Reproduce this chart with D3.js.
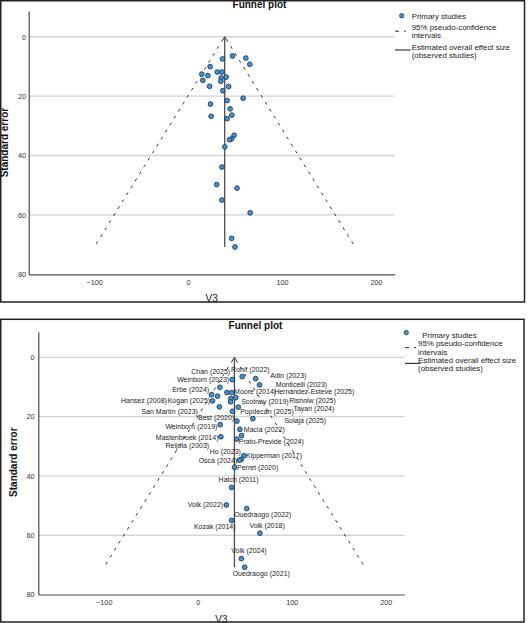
<!DOCTYPE html>
<html>
<head>
<meta charset="utf-8">
<script src="https://cdn.jsdelivr.net/npm/d3@7/dist/d3.min.js"></script>
<style>
  body { margin: 0; background: #ffffff; }
  svg { display: block; font-family: "Liberation Sans", Arial, sans-serif; }
</style>
</head>
<body>
<div id="funnel"></div>
<script>
////////////////////////////////////////////////////////////////////////////////
////////////////////////////////////////////////////////////////////////// Data
////////////////////////////////////////////////////////////////////////////////

// study labels ("" = no label shown)
const studyNames = [
  "Rohlf (2022)", "Adin (2023)", "Monticelli (2023)", "Chan (2025)",
  "Weinborn (2023)", "Erbe (2024)", "Kogan (2025)", "Hansez (2008)", "",
  "Moore (2014)", "Rishniw (2025)", "Hernández-Esteve (2025)", "Scotney (2019)",
  "San Martín (2023)", "Tayari (2024)", "Popdecan (2025)", "Solaja (2025)",
  "Best (2020)", "Weinborn (2019)", "Macia (2022)", "Reijola (2003)",
  "Mastenbroek (2014)", "Prato-Previde (2024)", "Kipperman (2017)", "Ho (2023)",
  "Osca (2024)", "Perret (2020)", "Hatch (2011)", "Volk (2022)",
  "Ouedraogo (2022)", "Kozak (2014)", "Volk (2018)", "Volk (2024)",
  "Ouedraogo (2021)"
];

// effect size (V3)
const effectSizes = [
  47.3, 61.5, 65.7, 36.7, 23.5, 14.7, 15.7, 21.1, 31.0, 36.0, 35.2, 40.5,
  34.9, 22.9, 43.1, 37.0, 58.6, 41.6, 23.9, 44.8, 46.6, 24.6, 41.6, 49.0,
  46.3, 44.1, 39.1, 36.0, 30.5, 52.1, 36.0, 66.1, 46.4, 49.9
];

// standard error
const standardErrors = [
  6.5, 7.2, 9.3, 7.5, 10.1, 12.6, 14.7, 13.1, 11.9, 11.9, 13.9, 13.6,
  15.0, 16.7, 16.8, 18.2, 20.7, 21.5, 22.7, 24.3, 26.4, 26.8, 27.6, 33.2,
  34.4, 34.7, 37.1, 43.9, 49.8, 51.0, 55.0, 59.3, 67.9, 70.8
];

const pooledEffect = 39;
const ciZ = 1.96;

const xTicks = [-100, 0, 100, 200];
const yTicks = [0, 20, 40, 60, 80];
const xDomain = [-169.6, 219.8];
const yDomain = [-8.65, 80];

const legendLabels = [
  ["Primary studies"],
  ["95% pseudo-confidence", "intervals"],
  ["Estimated overall effect size", "(observed studies)"]
];

////////////////////////////////////////////////////////////////////////////////
//////////////////////////////////////////////////////////////////////// Layout
////////////////////////////////////////////////////////////////////////////////

// label placement relative to its point: [dx, dy, anchor]
const labelLayout = [
  [-11.1, -7, "start"], [14.6, -3.3, "start"], [16.3, -0.3, "start"],
  [-2.1, -8.3, "end"], [9.3, -7.7, "end"], [-2.4, -5.6, "end"],
  [-2.4, 0.1, "end"], [-50.7, 4.7, "end"], [0, 0, "start"],
  [2.5, -1.3, "start"], [58.3, 1.7, "start"], [38.3, -6.3, "start"],
  [10.6, 0.1, "start"], [-21.4, 5.1, "end"], [55.2, 1.3, "start"],
  [7.6, 0.7, "start"], [31.6, 2.1, "start"], [-2.7, -3.3, "end"],
  [-2.8, 2.4, "end"], [4, -0.3, "start"], [-32.4, 10.4, "end"],
  [-2.4, 0.4, "end"], [2, 2.7, "start"], [2.2, -0.6, "start"],
  [-0.4, -7.6, "end"], [-2, 0.7, "end"], [2.5, 0.1, "start"],
  [7, -7.8, "middle"], [-3.3, -0.6, "end"], [16, 6.2, "middle"],
  [4, 6.5, "end"], [7.2, -7.2, "middle"], [7.6, -8.2, "middle"],
  [16.6, 6.6, "middle"]
];

const panels = [
  {
    box: [0.75, 0.75, 524.5, 302],
    plot: { left: 28.7, right: 394.6, top: 11, bottom: 274.3 },
    title: [259.5, 8.3],
    xTitle: [211.7, 302],
    yTitle: [4.8, 142.6],
    yTickPad: 2.7,
    legend: { markerX: 395, circle: [401.7, 15.7], textX: 411.7, primaryX: 411.7, rows: [16.7, 27.2, 46.8] },
    showLabels: false
  },
  {
    box: [0.75, 319.3, 524, 622],
    plot: { left: 38.3, right: 404.4, top: 331.7, bottom: 594.5 },
    title: [255.5, 328.6],
    xTitle: [221.4, 622.5],
    yTitle: [13.2, 462.2],
    yTickPad: 3.8,
    legend: { markerX: 405, circle: [406.3, 332.6], textX: 418, primaryX: 422.3, rows: [335, 343.6, 360.2] },
    showLabels: true
  }
];

const svg = d3.select("#funnel")
              .append("svg")
                .attr("width", 530)
                .attr("height", 623);

////////////////////////////////////////////////////////////////////////////////
////////////////////////////////////////////////////////////////// Draw panels
////////////////////////////////////////////////////////////////////////////////

function drawPanel(p) {
  const g = svg.append("g");

  const xScale = d3.scaleLinear()
                   .domain(xDomain)
                   .range([p.plot.left, p.plot.right]);
  const yScale = d3.scaleLinear()
                   .domain(yDomain)
                   .range([p.plot.top, p.plot.bottom]);

  // grid lines
  g.selectAll(".grid")
    .data(yTicks.filter(d => d < yDomain[1]))
    .join("line")
      .attr("class", "grid")
      .attr("x1", p.plot.left)
      .attr("x2", p.plot.right)
      .attr("y1", d => yScale(d))
      .attr("y2", d => yScale(d))
      .attr("stroke", "#d3d3d3")
      .attr("stroke-width", 1.4);

  // axes
  const yAxis = d3.axisLeft(yScale)
                  .tickValues(yTicks)
                  .tickSize(0)
                  .tickPadding(p.yTickPad);
  g.append("g")
    .attr("transform", `translate(${p.plot.left},0)`)
    .call(yAxis)
    .call(a => a.select(".domain").attr("stroke", "#4a4a4a").attr("stroke-width", 1.2))
    .call(a => a.selectAll("text").attr("font-size", 7.3).attr("fill", "#333")
                .attr("font-family", "Liberation Sans, Arial, sans-serif"));

  const xAxis = d3.axisBottom(xScale)
                  .tickValues(xTicks)
                  .tickSize(0)
                  .tickPadding(5.5);
  g.append("g")
    .attr("transform", `translate(0,${p.plot.bottom})`)
    .call(xAxis)
    .call(a => a.select(".domain").attr("stroke", "#4a4a4a").attr("stroke-width", 1.2))
    .call(a => a.selectAll("text").attr("font-size", 7.3).attr("fill", "#333")
                .attr("font-family", "Liberation Sans, Arial, sans-serif"));

  // funnel (pseudo 95% CI)
  const seMax = d3.max(standardErrors);
  const funnelLine = d3.line()
                       .x(d => xScale(d[0]))
                       .y(d => yScale(d[1]));
  [-1, 1].forEach(side => {
    g.append("path")
      .attr("d", funnelLine([[pooledEffect, 0], [pooledEffect + side * ciZ * seMax, seMax]]))
      .attr("fill", "none")
      .attr("stroke", "#333")
      .attr("stroke-width", 1)
      .attr("stroke-dasharray", "3,5.2")
      .attr("stroke-dashoffset", -3);
  });

  // overall effect line with arrow head
  const ex = xScale(pooledEffect);
  const e0 = yScale(0);
  g.append("line")
    .attr("x1", ex).attr("x2", ex)
    .attr("y1", e0).attr("y2", yScale(seMax))
    .attr("stroke", "#4d4d4d")
    .attr("stroke-width", 1.3);
  g.append("path")
    .attr("d", `M${ex - 2.2},${e0 + 3.2}L${ex},${e0}L${ex + 2.2},${e0 + 3.2}`)
    .attr("fill", "none")
    .attr("stroke", "#4d4d4d")
    .attr("stroke-width", 1);

  // study labels
  if (p.showLabels) {
    g.selectAll(".study-label")
      .data(studyNames)
      .join("text")
        .attr("class", "study-label")
        .attr("x", (d, i) => xScale(effectSizes[i]) + labelLayout[i][0])
        .attr("y", (d, i) => yScale(standardErrors[i]) + labelLayout[i][1])
        .attr("dy", "0.35em")
        .attr("text-anchor", (d, i) => labelLayout[i][2])
        .attr("font-size", 7)
        .attr("fill", "#222")
        .text(d => d);
  }

  // studies
  g.selectAll(".study")
    .data(effectSizes)
    .join("circle")
      .attr("class", "study")
      .attr("cx", d => xScale(d))
      .attr("cy", (d, i) => yScale(standardErrors[i]))
      .attr("r", 2.4)
      .attr("fill", "#3f95dc")
      .attr("stroke", "#1b2a3a")
      .attr("stroke-width", 0.8);

  // titles
  g.append("text")
    .attr("x", p.title[0])
    .attr("y", p.title[1])
    .attr("text-anchor", "middle")
    .attr("font-size", 10)
    .attr("font-weight", "bold")
    .attr("fill", "#111")
    .text("Funnel plot");

  g.append("text")
    .attr("x", p.xTitle[0])
    .attr("y", p.xTitle[1])
    .attr("text-anchor", "middle")
    .attr("font-size", 10)
    .attr("fill", "#111")
    .text("V3");

  g.append("text")
    .attr("transform", `translate(${p.yTitle[0]},${p.yTitle[1]}) rotate(-90)`)
    .attr("dy", "0.35em")
    .attr("text-anchor", "middle")
    .attr("font-size", 10)
    .attr("font-weight", "bold")
    .attr("fill", "#111")
    .text("Standard error");

  // legend
  const lg = p.legend;
  g.append("circle")
    .attr("cx", lg.circle[0])
    .attr("cy", lg.circle[1])
    .attr("r", 2.2)
    .attr("fill", "#3f95dc")
    .attr("stroke", "#1b2a3a")
    .attr("stroke-width", 0.7);
  g.append("line")
    .attr("x1", lg.markerX).attr("x2", lg.markerX + 11)
    .attr("y1", lg.rows[1] + 4).attr("y2", lg.rows[1] + 4)
    .attr("stroke", "#333")
    .attr("stroke-width", 1)
    .attr("stroke-dasharray", "4,5,2,10");
  g.append("line")
    .attr("x1", lg.markerX).attr("x2", lg.markerX + 15.5)
    .attr("y1", lg.rows[2] + 3.2).attr("y2", lg.rows[2] + 3.2)
    .attr("stroke", "#333")
    .attr("stroke-width", 1.2);

  legendLabels.forEach((lines, i) => {
    lines.forEach((line, j) => {
      g.append("text")
        .attr("x", i === 0 ? lg.primaryX : lg.textX)
        .attr("y", lg.rows[i] + j * 8.2)
        .attr("dy", "0.35em")
        .attr("font-size", 7.9)
        .attr("fill", "#222")
        .text(line);
    });
  });

  // frame
  g.append("rect")
    .attr("x", p.box[0])
    .attr("y", p.box[1])
    .attr("width", p.box[2] - p.box[0])
    .attr("height", p.box[3] - p.box[1])
    .attr("fill", "none")
    .attr("stroke", "#222")
    .attr("stroke-width", 1.5);
}

panels.forEach(drawPanel);
</script>
</body>
</html>
